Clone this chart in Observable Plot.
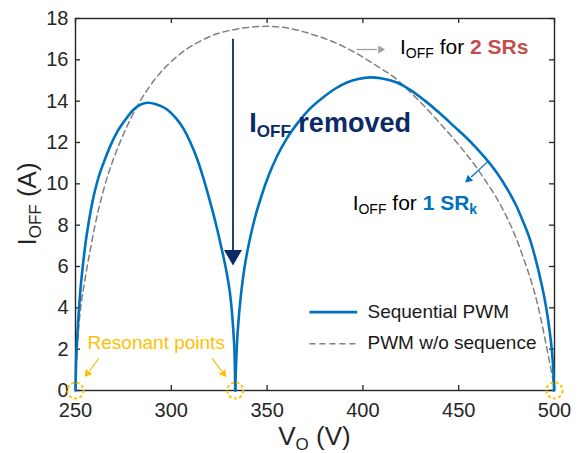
<!DOCTYPE html>
<html><head><meta charset="utf-8">
<script src="https://cdn.jsdelivr.net/npm/d3@7"></script>
<script src="https://cdn.jsdelivr.net/npm/@observablehq/plot@0.6"></script>
<style>body{margin:0;background:#fff}svg{display:block}</style>
</head><body><div id="chart"></div>
<script>
// ---- data ----
const xTicks = [250, 300, 350, 400, 450, 500];
const yTicks = [0, 2, 4, 6, 8, 10, 12, 14, 16, 18];

// Sequential PWM, first lobe (250 V -> first resonant point)
const seqLobe1V = [250, 250.2, 250.7, 251.5, 252.6, 253.8, 255.2, 257, 259, 261.5, 264.8, 268, 271.7, 276, 280.4, 284, 287.7, 292, 297.8, 302.2, 306.5, 310, 313.5, 316.5, 319, 321.5, 323.7, 325.7, 327.5, 329.1, 330.5, 331.6, 332.5, 333.1, 333.4];
const seqLobe1I = [0, 1.0, 2.2, 3.5, 4.9, 6.0, 7.1, 8.2, 9.2, 10.15, 11.05, 11.8, 12.5, 13.1, 13.6, 13.83, 13.92, 13.85, 13.6, 13.2, 12.65, 12.0, 11.2, 10.35, 9.55, 8.7, 7.9, 7.1, 6.35, 5.6, 4.8, 3.85, 2.7, 1.5, 0];

// Sequential PWM, second lobe (first resonant point -> 500 V)
const seqLobe2V = [333.4, 333.7, 334.3, 335.2, 336.5, 338.3, 340.6, 343.5, 347, 350.8, 355, 360, 365.6, 372, 379.5, 385.5, 391.7, 397.5, 403.8, 410, 417.7, 424.7, 432, 440.3, 448.3, 453.5, 458.8, 464.5, 470, 475, 480, 483.7, 486.5, 488.3, 490.7, 493, 494.8, 496.2, 497.5, 498.5, 499.3, 499.8];
const seqLobe2I = [0, 1.0, 2.3, 3.5, 4.75, 6.0, 7.15, 8.3, 9.4, 10.4, 11.3, 12.15, 12.9, 13.6, 14.2, 14.6, 14.9, 15.07, 15.15, 15.1, 14.9, 14.55, 14.05, 13.4, 12.72, 12.28, 11.78, 11.18, 10.52, 9.8, 8.95, 8.15, 7.5, 6.98, 6.15, 5.25, 4.45, 3.7, 2.85, 2.05, 1.1, 0];

// PWM without sequence
const pwmV = [250, 250.3, 251, 252, 253.1, 254.3, 256, 258, 260, 262, 264.5, 267, 270, 276, 282.2, 288, 294.3, 301, 308.2, 316, 323.9, 332.5, 340, 349.9, 360, 372.5, 385, 396.9, 407, 417.7, 424, 431.6, 440, 449, 458.8, 464, 469.2, 474.5, 479.6, 484, 488.3, 490.7, 492.7, 494.8, 496.6, 498.1, 499.2, 500];
const pwmI = [0, 1.0, 2.2, 3.4, 4.3, 5.0, 5.95, 6.95, 7.9, 8.75, 9.65, 10.45, 11.25, 12.6, 13.75, 14.62, 15.38, 16.0, 16.53, 16.95, 17.26, 17.46, 17.57, 17.62, 17.55, 17.26, 16.85, 16.3, 15.72, 15.05, 14.5, 13.8, 12.95, 12.0, 10.85, 10.15, 9.4, 8.5, 7.45, 6.35, 5.15, 4.35, 3.55, 2.6, 1.75, 1.05, 0.5, 0];

const resonantV = [250, 333.4, 500];
const legendLabels = ["Sequential PWM", "PWM w/o sequence"];

// ---- tables ----
const seq1 = seqLobe1V.map((v, k) => ({v, i: seqLobe1I[k]}));
const seq2 = seqLobe2V.map((v, k) => ({v, i: seqLobe2I[k]}));
const pwm = pwmV.map((v, k) => ({v, i: pwmI[k]}));
const resonant = resonantV.map(v => ({v, i: 0}));

const FONT = '"Liberation Sans", Arial, Helvetica, sans-serif';
const BLUE = "#0072BD", GRAY = "#808080", NAVY = "#0B2A66", GOLD = "#FFC000", RED = "#C0504D", AX = "#262626";

const legendRows = [
  {label: legendLabels[0], y: 3.79, ty: 3.53},
  {label: legendLabels[1], y: 2.26, ty: 2.02}
];
const legendX1 = 372.1, legendX2 = 397, legendTX = 402.4;

// annotation pointers (data units)
const shafts = [
  {x1: 396.7, y1: 16.5, x2: 407.4, y2: 16.5, c: "#A0A0A0"},
  {x1: 464.9, y1: 11.05, x2: 456.5, y2: 10.33, c: BLUE},
  {x1: 262.2, y1: 1.55, x2: 257.3, y2: 0.95, c: GOLD},
  {x1: 321.3, y1: 1.55, x2: 326.2, y2: 0.95, c: GOLD}
];
const heads = [
  {x: 409.2, y: 16.5, rot: 90, r: 4.3, c: "#A0A0A0"},
  {x: 455.2, y: 10.22, rot: 227.3, r: 4.3, c: BLUE},
  {x: 256.3, y: 0.83, rot: 216.9, r: 4.4, c: GOLD},
  {x: 327.2, y: 0.83, rot: 143.1, r: 4.4, c: GOLD}
];

const plot = Plot.plot({
  width: 583, height: 453,
  marginLeft: 75, marginRight: 29, marginTop: 18, marginBottom: 63,
  x: {domain: [250, 500]},
  y: {domain: [0, 18]},
  style: {fontFamily: FONT, fontSize: "20px", color: AX, background: "white", overflow: "visible"},
  marks: [
    Plot.axisX({ticks: xTicks, tickSize: 0, tickPadding: 12, label: null, fontSize: 20, fill: AX}),
    Plot.axisY({ticks: yTicks, tickSize: 0, tickPadding: 7, label: null, fontSize: 20, fill: AX}),
    Plot.tickX(xTicks, {insetTop: 367, stroke: AX, strokeWidth: 1.3}),
    Plot.tickX(xTicks, {insetBottom: 367, stroke: AX, strokeWidth: 1.3}),
    Plot.tickY(yTicks, {insetRight: 474, stroke: AX, strokeWidth: 1.3}),
    Plot.tickY(yTicks, {insetLeft: 474, stroke: AX, strokeWidth: 1.3}),
    Plot.frame({stroke: AX, strokeWidth: 1.4}),
    // curves
    Plot.line(pwm, {x: "v", y: "i", stroke: GRAY, strokeWidth: 1.5, strokeDasharray: "6,4", curve: "monotone-x"}),
    Plot.line(seq1, {x: "v", y: "i", stroke: BLUE, strokeWidth: 2.6, curve: "monotone-x"}),
    Plot.line(seq2, {x: "v", y: "i", stroke: BLUE, strokeWidth: 2.6, curve: "monotone-x"}),
    // removed arrow
    Plot.ruleX([332.2], {y1: 17.0, y2: 6.75, stroke: NAVY, strokeWidth: 1.8}),
    Plot.dot([{v: 332.2, i: 6.55}], {x: "v", y: "i", symbol: "triangle", r: 6.7, rotate: 180, fill: NAVY, stroke: null}),
    // small pointer arrows
    Plot.link(shafts, {x1: "x1", y1: "y1", x2: "x2", y2: "y2", stroke: d => d.c, strokeWidth: 1.3}),
    Plot.dot(heads, {x: "x", y: "y", r: "r", rotate: "rot", symbol: "triangle", fill: d => d.c, stroke: null}),
    // resonant circles
    Plot.dot(resonant, {x: "v", y: "i", r: 8, stroke: GOLD, strokeWidth: 2, strokeDasharray: "3,2.5", fill: "none"}),
    Plot.text(["Resonant points"], {x: () => 256.3, y: () => 2.03, text: d => d, textAnchor: "start", lineAnchor: "bottom", fill: GOLD, fontSize: 19}),
    // legend
    Plot.link(legendRows.slice(0, 1), {x1: () => legendX1, x2: () => legendX2, y1: "y", y2: "y", stroke: BLUE, strokeWidth: 2.6}),
    Plot.link(legendRows.slice(1, 2), {x1: () => legendX1, x2: () => legendX2, y1: "y", y2: "y", stroke: GRAY, strokeWidth: 1.5, strokeDasharray: "6,4"}),
    Plot.text(legendRows, {x: () => legendTX, y: "ty", text: "label", textAnchor: "start", lineAnchor: "bottom", fill: "#1a1a1a", fontSize: 19})
  ]
});

document.getElementById("chart").append(plot);

// ---- rich text (subscripts) ----
const svg = d3.select(plot);
const sx = plot.scale("x"), sy = plot.scale("y");
function rich(x, y, parts, opts = {}) {
  const t = svg.append("text").attr("x", x).attr("y", y)
    .attr("font-family", FONT).attr("fill", opts.fill || "#000")
    .attr("text-anchor", opts.anchor || "start")
    .style("white-space", "pre");
  if (opts.transform) t.attr("transform", opts.transform);
  let shift = 0;
  for (const p of parts) {
    const ts = t.append("tspan").text(p.t).attr("font-size", p.size);
    if (p.bold) ts.attr("font-weight", "bold");
    if (p.fill) ts.attr("fill", p.fill);
    const target = p.sub || 0;
    if (target !== shift) { ts.attr("dy", target - shift); shift = target; }
  }
  return t;
}

rich(sx.apply(341.0), sy.apply(12.5), [
  {t: "I", size: 27, bold: true},
  {t: "OFF", size: 17, bold: true, sub: 5},
  {t: " removed", size: 27, bold: true}
], {fill: NAVY});

rich(sx.apply(419.6), sy.apply(16.24), [
  {t: "I", size: 21},
  {t: "OFF", size: 14, sub: 4},
  {t: " for ", size: 21},
  {t: "2 SRs", size: 21, bold: true, fill: RED}
], {fill: "#000"});

rich(sx.apply(394.9), sy.apply(8.71), [
  {t: "I", size: 21},
  {t: "OFF", size: 14, sub: 4},
  {t: " for ", size: 21},
  {t: "1 SR", size: 21, bold: true, fill: BLUE},
  {t: "k", size: 14, bold: true, fill: BLUE, sub: 4}
], {fill: "#000"});

// axis labels
const xMid = (sx.range[0] + sx.range[1]) / 2;
const yMid = (sy.range[0] + sy.range[1]) / 2;
rich(xMid, sy.apply(0) + 55, [
  {t: "V", size: 26},
  {t: "O", size: 17, sub: 5},
  {t: " (V)", size: 26}
], {fill: AX, anchor: "middle"});

rich(0, 0, [
  {t: "I", size: 26},
  {t: "OFF", size: 17, sub: 5},
  {t: " (A)", size: 26}
], {fill: AX, anchor: "middle", transform: `translate(36,${yMid}) rotate(-90)`});
</script>
</body></html>
